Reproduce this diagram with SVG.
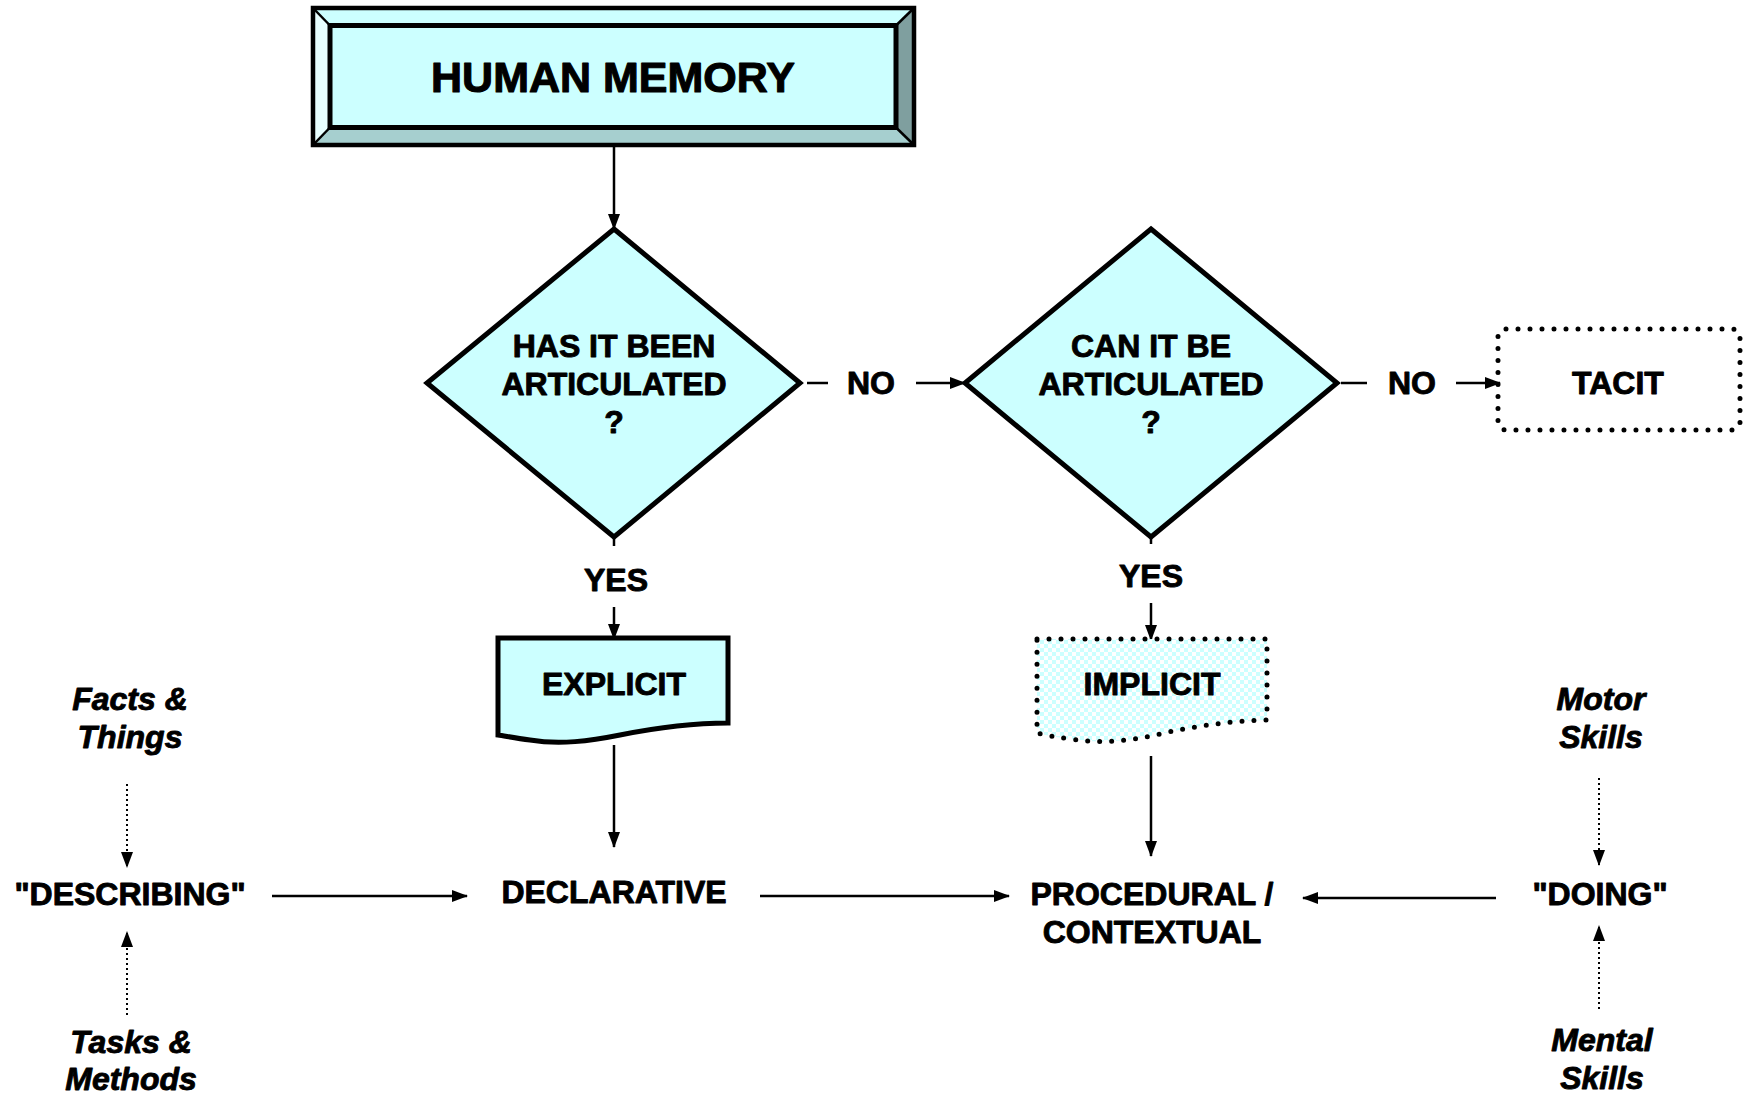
<svg xmlns="http://www.w3.org/2000/svg" width="1743" height="1094" viewBox="0 0 1743 1094">
  <style>
    .lbl { font-family: "Liberation Sans", Arial, sans-serif; font-weight: bold; font-size: 32px; fill: #000; stroke: #000; stroke-width: 0.9; stroke-linejoin: round; text-anchor: middle; }
    .big { font-size: 43px; stroke-width: 1.1; }
    .it { font-style: italic; font-size: 32px; }
    .shape { fill: #ccffff; stroke: #000; stroke-width: 5; stroke-linejoin: miter; }
    .dots { stroke: #000; stroke-width: 5; stroke-linecap: round; stroke-dasharray: 0 12; }
    .conn { fill: none; stroke: #000; stroke-width: 2.5; }
    .dotconn { fill: none; stroke: #000; stroke-width: 2; stroke-dasharray: 2 3; }
  </style>
  <defs>
    <marker id="head" markerUnits="userSpaceOnUse" markerWidth="16" markerHeight="12" refX="15" refY="6" orient="auto">
      <path d="M0,0 L16,6 L0,12 Z" fill="#000"/>
    </marker>
    <pattern id="checker" width="8" height="8" patternUnits="userSpaceOnUse">
      <rect width="8" height="8" fill="#ffffff"/>
      <rect width="4" height="4" fill="#ccffff"/>
      <rect x="4" y="4" width="4" height="4" fill="#ccffff"/>
    </pattern>
  </defs>

  <!-- connectors -->
  <g id="connectors">
    <line class="conn" x1="614" y1="147" x2="614" y2="229" marker-end="url(#head)"/>
    <line class="conn" x1="807" y1="383" x2="828" y2="383"/>
    <line class="conn" x1="916" y1="383" x2="965" y2="383" marker-end="url(#head)"/>
    <line class="conn" x1="1341" y1="383" x2="1367" y2="383"/>
    <line class="conn" x1="1456" y1="383" x2="1500" y2="383" marker-end="url(#head)"/>
    <line class="conn" x1="614" y1="537" x2="614" y2="546"/>
    <line class="conn" x1="614" y1="607" x2="614" y2="639" marker-end="url(#head)"/>
    <line class="conn" x1="1151" y1="537" x2="1151" y2="544"/>
    <line class="conn" x1="1151" y1="603" x2="1151" y2="640" marker-end="url(#head)"/>
    <line class="conn" x1="614" y1="745" x2="614" y2="847" marker-end="url(#head)"/>
    <line class="conn" x1="1151" y1="756" x2="1151" y2="856" marker-end="url(#head)"/>
    <line class="conn" x1="272" y1="896" x2="467" y2="896" marker-end="url(#head)"/>
    <line class="conn" x1="760" y1="896" x2="1009" y2="896" marker-end="url(#head)"/>
    <line class="conn" x1="1496" y1="898" x2="1303" y2="898" marker-end="url(#head)"/>
    <line class="dotconn" x1="127" y1="784" x2="127" y2="867" marker-end="url(#head)"/>
    <line class="dotconn" x1="127" y1="1015" x2="127" y2="932" marker-end="url(#head)"/>
    <line class="dotconn" x1="1599" y1="778" x2="1599" y2="865" marker-end="url(#head)"/>
    <line class="dotconn" x1="1599" y1="1009" x2="1599" y2="926" marker-end="url(#head)"/>
  </g>

  <!-- edge labels -->
  <g id="edge-labels">
    <text class="lbl" x="871" y="394">NO</text>
    <text class="lbl" x="1412" y="394">NO</text>
    <text class="lbl" x="616" y="591">YES</text>
    <text class="lbl" x="1151" y="587">YES</text>
  </g>

  <!-- bevelled title box -->
  <g id="human-memory">
    <rect x="313" y="8" width="601" height="137" fill="#ccffff"/>
    <polygon points="313,8 914,8 896,25.5 330,25.5" fill="#ccffff"/>
    <polygon points="313,8 330,25.5 330,127.5 313,145" fill="#e8ffff"/>
    <polygon points="914,8 914,145 896,127.5 896,25.5" fill="#7f9f9f"/>
    <polygon points="313,145 914,145 896,127.5 330,127.5" fill="#a6cfcf"/>
    <g stroke="#000" stroke-width="2.5">
      <line x1="313" y1="8" x2="330" y2="25.5"/>
      <line x1="914" y1="8" x2="896" y2="25.5"/>
      <line x1="313" y1="145" x2="330" y2="127.5"/>
      <line x1="914" y1="145" x2="896" y2="127.5"/>
    </g>
    <rect x="330" y="25.5" width="566" height="102" fill="#ccffff" stroke="#000" stroke-width="5"/>
    <rect x="313" y="8" width="601" height="137" fill="none" stroke="#000" stroke-width="4.5"/>
    <text class="lbl big" x="613" y="92">HUMAN MEMORY</text>
  </g>

  <!-- first decision -->
  <g id="decision-articulated">
    <polygon class="shape" points="614,229 800,383 614,537 427,383"/>
    <text class="lbl" x="614" y="357">HAS IT BEEN</text>
    <text class="lbl" x="614" y="395">ARTICULATED</text>
    <text class="lbl" x="614" y="433">?</text>
  </g>

  <!-- second decision -->
  <g id="decision-can-articulate">
    <polygon class="shape" points="1151,229 1337,383 1151,537 965,383"/>
    <text class="lbl" x="1151" y="357">CAN IT BE</text>
    <text class="lbl" x="1151" y="395">ARTICULATED</text>
    <text class="lbl" x="1151" y="433">?</text>
  </g>

  <!-- tacit -->
  <g id="tacit">
    <rect class="dots" x="1498" y="329" width="242" height="101" rx="8" fill="none"/>
    <text class="lbl" x="1618" y="394">TACIT</text>
  </g>

  <!-- explicit document -->
  <g id="explicit">
    <path class="shape" d="M498,638 L728,638 L728,723 C690,723 655,728 620,735 C590,741 560,745 530,740 C515,738 505,736 498,735 Z"/>
    <text class="lbl" x="614" y="695">EXPLICIT</text>
  </g>

  <!-- implicit document -->
  <g id="implicit">
    <path d="M1037,639 L1267,639 L1267,720 C1230,721 1195,726 1160,734 C1130,741 1100,744 1070,739 C1055,737 1045,735 1037,733 Z" fill="url(#checker)"/>
    <path class="dots" fill="none" d="M1037,639 L1267,639 L1267,720 C1230,721 1195,726 1160,734 C1130,741 1100,744 1070,739 C1055,737 1045,735 1037,733 Z"/>
    <text class="lbl" x="1152" y="695">IMPLICIT</text>
  </g>

  <!-- knowledge kinds -->
  <g id="declarative">
    <text class="lbl" x="614" y="903">DECLARATIVE</text>
  </g>
  <g id="procedural">
    <text class="lbl" x="1152" y="905">PROCEDURAL /</text>
    <text class="lbl" x="1152" y="943">CONTEXTUAL</text>
  </g>
  <g id="describing">
    <text class="lbl" x="130" y="905">"DESCRIBING"</text>
  </g>
  <g id="doing">
    <text class="lbl" x="1600" y="905">"DOING"</text>
  </g>

  <!-- sources -->
  <g id="facts-things">
    <text class="lbl it" x="130" y="710">Facts &amp;</text>
    <text class="lbl it" x="130" y="748">Things</text>
  </g>
  <g id="tasks-methods">
    <text class="lbl it" x="131" y="1053">Tasks &amp;</text>
    <text class="lbl it" x="131" y="1090">Methods</text>
  </g>
  <g id="motor-skills">
    <text class="lbl it" x="1601" y="710">Motor</text>
    <text class="lbl it" x="1601" y="748">Skills</text>
  </g>
  <g id="mental-skills">
    <text class="lbl it" x="1602" y="1051">Mental</text>
    <text class="lbl it" x="1602" y="1089">Skills</text>
  </g>
</svg>
